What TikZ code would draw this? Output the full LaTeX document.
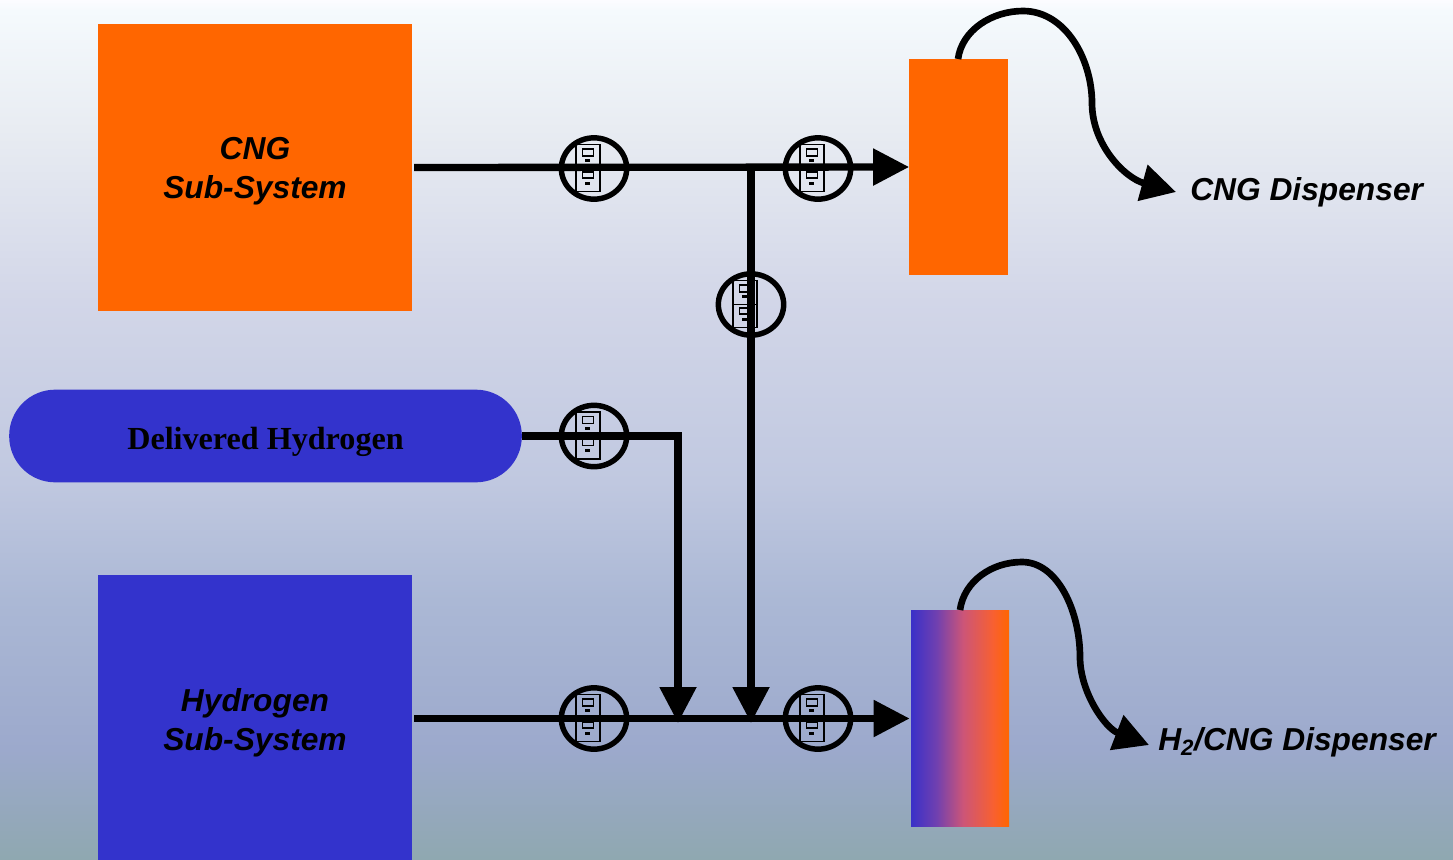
\documentclass[tikz,border=0pt]{standalone}
\usepackage{fontspec}
\setmainfont{Liberation Sans}
\newfontfamily\serifbold{Liberation Serif}
\usetikzlibrary{arrows.meta,shapes.geometric}
\definecolor{cngorange}{HTML}{FF6600}
\definecolor{hblue}{HTML}{3A30C8}
\definecolor{boxblue}{HTML}{3333CC}
\definecolor{g1}{HTML}{7040B0}
\definecolor{g2}{HTML}{CC5578}
\definecolor{g3}{HTML}{F86030}
\definecolor{s0}{HTML}{8FA8B0}
\definecolor{s1}{HTML}{9CA9CC}
\definecolor{s2}{HTML}{ABB8D5}
\definecolor{s3}{HTML}{C0C8E0}
\definecolor{s4}{HTML}{D2D6E8}
\definecolor{s5}{HTML}{E8ECF2}
\definecolor{s6}{HTML}{F5FAFD}
\definecolor{s7}{HTML}{FCFCFF}
% stops run over 25bp..75bp, the part of the shading that fills the path
\pgfdeclareverticalshading{bgfill}{100bp}{
 color(0bp)=(s0); color(25bp)=(s0); color(31.4bp)=(s1); color(40.1bp)=(s2); color(47bp)=(s3);
 color(57.5bp)=(s4); color(67.5bp)=(s5); color(74.4bp)=(s6); color(75bp)=(s7); color(100bp)=(s7)}
\pgfdeclarehorizontalshading{mixshade}{100bp}{
 color(0bp)=(hblue); color(25bp)=(hblue); color(38bp)=(g1); color(51.5bp)=(g2); color(67bp)=(g3); color(75bp)=(cngorange); color(100bp)=(cngorange)}
\newcommand{\shifted}[2]{\raisebox{#1}[0pt][0pt]{\begin{tabular}{@{}c@{}}#2\end{tabular}}}
\tikzset{
 x=0.75pt,y=-0.75pt,
 flow/.style={line width=5.5pt,draw=black},
 tip/.style={-{Triangle[length=27pt,width=26.5pt]}},
 hose/.style={line width=5pt,draw=black,-{Triangle[length=26pt,width=27pt]}},
 sysbox/.style={minimum width=235.5pt,minimum height=215.25pt,inner sep=0,outer sep=0,font=\fontsize{23.8}{29}\selectfont\bfseries\itshape},
 dispbox/.style={minimum width=74pt,minimum height=162pt,inner sep=0,outer sep=0},
 valve/.style={ellipse,draw=black,line width=4.1pt,minimum width=49pt,minimum height=46pt,inner sep=0},
 cabinet/.style={draw=black,line width=1pt,fill=none},
 lab/.style={font=\fontsize{23.8}{28}\selectfont\bfseries\itshape,inner sep=0}
}
\newcommand{\cabinetat}[1]{%
 \begin{scope}[shift={(#1)},xshift=-4.6pt]
  \draw[cabinet,line width=1.3pt] (-12,-24) rectangle (12,23);
  \draw[cabinet] (-12,0) -- (12,0);
  \draw[black,line width=1.3pt] (-5.5,-19.5) rectangle (5.5,-12.5);
  \draw[black,line width=1.3pt] (-5.5,3.5) rectangle (5.5,9.5);
  \fill[black] (-2.5,-9.5) rectangle (2.5,-6.5);
  \fill[black] (-2.5,13) rectangle (2.5,16);
 \end{scope}}
\begin{document}
\begin{tikzpicture}
\useasboundingbox (0,0) rectangle (1453,860);
\shade[shading=bgfill] (0,0) rectangle (1453,860);

\node[sysbox,fill=cngorange] (cng) at (255,167.5) {\shifted{-9pt}{CNG\\Sub-System}};
\node[sysbox,fill=boxblue] (hyd) at (255,718.5) {\shifted{-10pt}{Hydrogen\\Sub-System}};
\node[fill=boxblue,rounded corners=34.5pt,minimum width=384.5pt,minimum height=69.5pt,inner sep=0,outer sep=0,font=\fontsize{24.1}{28}\selectfont\serifbold\bfseries] (del) at (265.5,436) {\shifted{-10.5pt}{Delivered Hydrogen}};
\node[dispbox,fill=cngorange] (d1) at (958.5,167) {};
\node[dispbox,minimum width=73.5pt,shading=mixshade] (d2) at (960,718.5) {};

\node[lab,anchor=west] (l1) at (1190,192) {CNG Dispenser};
\node[lab,anchor=west] (l2) at (1158,742) {H\textsubscript{2}/CNG Dispenser};

\coordinate (j1) at (751,167.5);
\coordinate (j2) at (751,723);
\coordinate (c1) at (678,436);
\coordinate (j3) at (678,723);
\coordinate (a1) at (958,59);
\coordinate (a2) at (960,610);
\coordinate (e1) at (1176,192);
\coordinate (e2) at (1149,745);

\draw[flow,tip] (cng.east) ++(2,0) -- (d1.west);
\draw[flow,tip] (hyd.east) ++(2,0) -- ([xshift=-1pt]d2.west);
\draw[flow,tip] (j1) -- (j2);
\draw[flow,tip] (del.east) -- (c1) -- (j3);

\draw[hose] (a1) .. controls (962,30) and (992,11) .. (1023,11) .. controls (1066,11) and (1092,60) .. (1092,103) .. controls (1092,145) and (1125,178) .. (e1);
\draw[hose] (a2) .. controls (964,581) and (992,562) .. (1022,562) .. controls (1058,562) and (1080,612) .. (1080,657) .. controls (1080,692) and (1105,728) .. (e2);

\node[valve] (v1) at (594,168.5) {};
\node[valve] (v2) at (818,168.5) {};
\node[valve] (v3) at (751,304.5) {};
\node[valve] (v4) at (594,436) {};
\node[valve] (v5) at (594,718.5) {};
\node[valve] (v6) at (818,718.5) {};
\cabinetat{v1}
\cabinetat{v2}
\cabinetat{v3}
\cabinetat{v4}
\cabinetat{v5}
\cabinetat{v6}
\end{tikzpicture}
\end{document}
